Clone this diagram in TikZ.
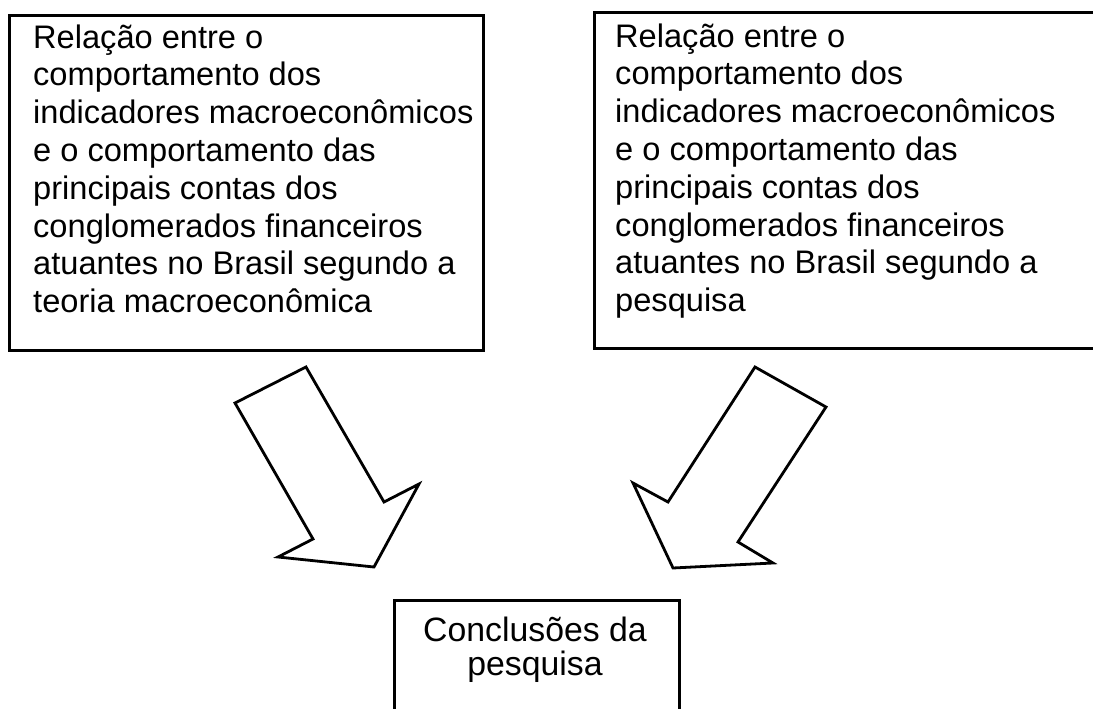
\documentclass[tikz,border=0pt]{standalone}
\usepackage{fontspec}
\setmainfont{Liberation Sans}
\begin{document}
\begin{tikzpicture}[x=1pt,y=-1pt,
  frame/.style={draw=black, line width=2.6pt, anchor=north west, inner sep=0pt},
  txt/.style={anchor=base west, align=left, inner sep=0pt,
    font=\fontsize{32.6}{37.8}\selectfont},
  ctxt/.style={anchor=base, align=center, inner sep=0pt,
    font=\fontsize{33.8}{33.5}\selectfont},
  blockarrow/.style={draw=black, fill=white, line width=2.8pt, line join=miter}]
\useasboundingbox (0,0) rectangle (1093,709);

% the two source boxes and the conclusion box
\node[frame, minimum width=474pt, minimum height=335pt] (theory) at (8,14) {};
\node[frame, minimum width=520pt, minimum height=336pt] (survey) at (593,11) {};
\node[frame, minimum width=285pt, minimum height=130pt] (result) at (393,599) {};

% texts, placed by the baseline of their last line
\node[txt] (theorytext) at (33,312.6) {Relação entre o\\comportamento dos\\indicadores macroeconômicos\\e o comportamento das\\principais contas dos\\conglomerados financeiros\\atuantes no Brasil segundo a\\teoria macroeconômica};
\node[txt] (surveytext) at (615,311.6) {Relação entre o\\comportamento dos\\indicadores macroeconômicos\\e o comportamento das\\principais contas dos\\conglomerados financeiros\\atuantes no Brasil segundo a\\pesquisa};
\node[ctxt] (resulttext) at (535,675) {Conclusões da\\pesquisa};

% block arrows leading down to the conclusion
\draw[blockarrow] (235,403) -- (306,367) -- (384,502) -- (419,484) -- (374,567)
  -- (278,557) -- (313,539) -- cycle;
\draw[blockarrow] (755,367) -- (826,407) -- (738,542) -- (773,563) -- (673,568)
  -- (633,483) -- (668,502) -- cycle;
\end{tikzpicture}
\end{document}
